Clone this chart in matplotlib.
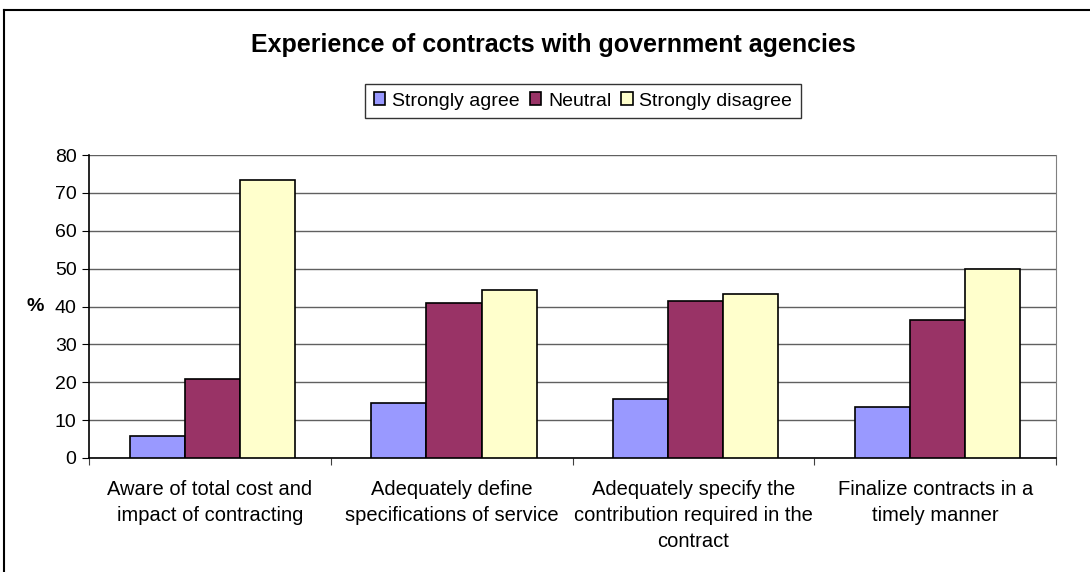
import numpy as np
import matplotlib
matplotlib.use('Agg')
import matplotlib.pyplot as plt
from matplotlib.lines import Line2D

plt.rcParams['font.family'] = ['Liberation Sans', 'DejaVu Sans']

# datos
categorias = ['Aware of total cost and\nimpact of contracting',
              'Adequately define\nspecifications of service',
              'Adequately specify the\ncontribution required in the\ncontract',
              'Finalize contracts in a\ntimely manner']
series = ['Strongly agree', 'Neutral', 'Strongly disagree']
strongly_agree = [5.8, 14.5, 15.5, 13.4]
neutral = [20.9, 41.0, 41.4, 36.4]
strongly_disagree = [73.4, 44.3, 43.2, 49.9]
colores = ['#9999FF', '#993366', '#FFFFCC']

fig = plt.figure(figsize=(10.9, 5.72), dpi=100)
ax = fig.add_axes([89 / 1090, 1 - 458 / 572, (1056 - 89) / 1090, (458 - 155) / 572])

x = np.arange(len(categorias))
ancho = 0.228
valores = [strongly_agree, neutral, strongly_disagree]
for i, (nombre, vals) in enumerate(zip(series, valores)):
    ax.bar(x + (i - 1) * ancho + 0.01, vals, ancho, color=colores[i], edgecolor='black',
           linewidth=1.2, label=nombre, zorder=3)

ax.set_xlim(-0.5, len(categorias) - 0.5)
ax.set_ylim(0, 80)
ax.set_yticks(np.arange(0, 81, 10))
ax.yaxis.grid(True, color='#606060', linewidth=1, zorder=0)
ax.set_axisbelow(True)

# ticks en los limites de las categorias, etiquetas en el centro
ax.set_xticks(np.arange(-0.5, len(categorias), 1.0))
ax.set_xticklabels([])
ax.set_xticks(x, minor=True)
ax.set_xticklabels(categorias, minor=True, fontsize=14.5, linespacing=1.45)
ax.tick_params(axis='x', which='major', direction='out', length=5, color='#404040')
ax.tick_params(axis='x', which='minor', length=0, pad=16)
ax.tick_params(axis='y', direction='out', length=5, labelsize=14, pad=4)

for s in ['left', 'bottom']:
    ax.spines[s].set_color('black')
    ax.spines[s].set_linewidth(1.2)
ax.spines['right'].set_color('#808080')
ax.spines['top'].set_visible(False)

ax.set_ylabel('%', rotation=0, fontsize=14, fontweight='bold', labelpad=14, va='center')

fig.text(0.508, 1 - 45 / 572, 'Experience of contracts with government agencies',
         ha='center', va='center', fontsize=18, fontweight='bold')

leg = fig.legend(loc='center', bbox_to_anchor=(583 / 1090, 1 - 101 / 572), ncol=3,
                 fontsize=14, frameon=True, fancybox=False, handlelength=0.6,
                 handleheight=0.6, handletextpad=0.35, columnspacing=0.5,
                 borderpad=0.45, borderaxespad=0)
leg.get_frame().set_edgecolor('black')
leg.get_frame().set_linewidth(1)

# marco exterior del grafico
fig.add_artist(Line2D([4 / 1090, 4 / 1090], [0, 1 - 10 / 572], color='black', linewidth=1.5))
fig.add_artist(Line2D([4 / 1090, 1], [1 - 10 / 572, 1 - 10 / 572], color='black', linewidth=1.5))

fig.savefig('out.png', dpi=100)
